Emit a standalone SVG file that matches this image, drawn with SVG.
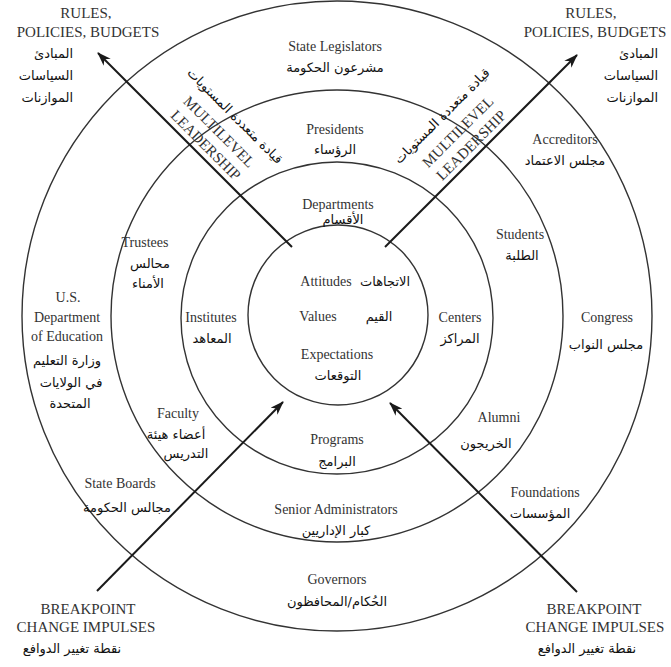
<svg xmlns="http://www.w3.org/2000/svg" width="671" height="667" viewBox="0 0 671 667">
  <style>
    .ring { fill: none; stroke: #333; stroke-width: 1.4; }
    .arrow { fill: none; stroke: #1a1a1a; stroke-width: 2; }
    .en { font-family: "Liberation Serif", "Times New Roman", serif; font-size: 14px; fill: #333; text-anchor: middle; }
    .cap { font-family: "Liberation Serif", "Times New Roman", serif; font-size: 15px; fill: #333; text-anchor: middle; }
    .ar { font-family: "DejaVu Sans", "Noto Sans", sans-serif; font-size: 13px; fill: #111; text-anchor: middle; }
    .are { font-family: "DejaVu Sans", "Noto Sans", sans-serif; font-size: 13px; fill: #111; text-anchor: end; }
  </style>
  <defs>
    <marker id="head" viewBox="0 0 14 10" refX="13" refY="5" markerWidth="14" markerHeight="10" markerUnits="userSpaceOnUse" orient="auto">
      <path d="M0,0 L14,5 L0,10 L4,5 Z" fill="#1a1a1a"/>
    </marker>
  </defs>
  <rect width="671" height="667" fill="#fff"/>

  <!-- concentric rings -->
  <g id="rings">
    <circle class="ring" cx="337" cy="316" r="315"/>
    <circle class="ring" cx="337" cy="316" r="226"/>
    <circle class="ring" cx="337" cy="318" r="156"/>
    <circle class="ring" cx="338" cy="315" r="90"/>
  </g>

  <!-- arrows: leadership outward, change impulses inward -->
  <g id="connectors">
    <line class="arrow" x1="292" y1="247" x2="98" y2="53" marker-end="url(#head)"/>
    <line class="arrow" x1="385" y1="247" x2="577" y2="55" marker-end="url(#head)"/>
    <line class="arrow" x1="97" y1="591" x2="283" y2="402" marker-end="url(#head)"/>
    <line class="arrow" x1="577" y1="592" x2="390" y2="403" marker-end="url(#head)"/>
  </g>

  <g id="rules-left">
    <text class="cap" x="86" y="18">RULES,</text>
    <text class="cap" x="88" y="37">POLICIES, BUDGETS</text>
    <text class="are" x="73" y="58">المبادئ</text>
    <text class="are" x="73" y="80">السياسات</text>
    <text class="are" x="73" y="102">الموازنات</text>
  </g>
  <g id="rules-right">
    <text class="cap" x="591" y="18">RULES,</text>
    <text class="cap" x="595" y="37">POLICIES, BUDGETS</text>
    <text class="are" x="658" y="58">المبادئ</text>
    <text class="are" x="658" y="80">السياسات</text>
    <text class="are" x="658" y="102">الموازنات</text>
  </g>

  <g id="leadership-left" transform="translate(198,153) rotate(45)">
    <text class="cap" x="0" y="-6">LEADERSHIP</text>
    <text class="cap" x="0" y="-25">MULTILEVEL</text>
    <text class="ar" x="0" y="-48">قيادة متعددة المستويات</text>
  </g>
  <g id="leadership-right" transform="translate(479,153) rotate(-45)">
    <text class="cap" x="0" y="-6">LEADERSHIP</text>
    <text class="cap" x="0" y="-25">MULTILEVEL</text>
    <text class="ar" x="0" y="-48">قيادة متعددة المستويات</text>
  </g>

  <g id="state-legislators">
    <text class="en" x="335" y="51">State Legislators</text>
    <text class="ar" x="335" y="72">مشرعون الحكومة</text>
  </g>
  <g id="presidents">
    <text class="en" x="335" y="134">Presidents</text>
    <text class="ar" x="335" y="154">الرؤساء</text>
  </g>
  <g id="accreditors">
    <text class="en" x="565" y="144">Accreditors</text>
    <text class="ar" x="565" y="165">مجلس الاعتماد</text>
  </g>
  <g id="students">
    <text class="en" x="520" y="239">Students</text>
    <text class="ar" x="522" y="260">الطلبة</text>
  </g>
  <g id="trustees">
    <text class="en" x="145" y="247">Trustees</text>
    <text class="ar" x="150" y="268">محالس</text>
    <text class="ar" x="148" y="288">الأمناء</text>
  </g>
  <g id="departments">
    <text class="en" x="338" y="209">Departments</text>
    <text class="ar" x="343" y="224">الأقسام</text>
  </g>
  <g id="core">
    <text class="en" x="326" y="286">Attitudes</text>
    <text class="ar" x="385" y="286">الاتجاهات</text>
    <text class="en" x="318" y="321">Values</text>
    <text class="ar" x="379" y="321">القيم</text>
    <text class="en" x="337" y="359">Expectations</text>
    <text class="ar" x="338" y="380">التوقعات</text>
  </g>
  <g id="institutes">
    <text class="en" x="211" y="322">Institutes</text>
    <text class="ar" x="212" y="343">المعاهد</text>
  </g>
  <g id="centers">
    <text class="en" x="460" y="322">Centers</text>
    <text class="ar" x="460" y="343">المراكز</text>
  </g>
  <g id="us-department">
    <text class="en" x="68" y="302">U.S.</text>
    <text class="en" x="67" y="322">Department</text>
    <text class="en" x="67" y="341">of Education</text>
    <text class="ar" x="67" y="365">وزارة التعليم</text>
    <text class="ar" x="71" y="387">في الولايات</text>
    <text class="ar" x="70" y="408">المتحدة</text>
  </g>
  <g id="congress">
    <text class="en" x="607" y="322">Congress</text>
    <text class="ar" x="606" y="349">مجلس النواب</text>
  </g>
  <g id="faculty">
    <text class="en" x="178" y="418">Faculty</text>
    <text class="ar" x="176" y="439">أعضاء هيئة</text>
    <text class="ar" x="186" y="458">التدريس</text>
  </g>
  <g id="alumni">
    <text class="en" x="499" y="422">Alumni</text>
    <text class="ar" x="486" y="448">الخريجون</text>
  </g>
  <g id="programs">
    <text class="en" x="337" y="444">Programs</text>
    <text class="ar" x="337" y="466">البرامج</text>
  </g>
  <g id="senior-administrators">
    <text class="en" x="336" y="514">Senior Administrators</text>
    <text class="ar" x="336" y="535">كبار الإداريين</text>
  </g>
  <g id="governors">
    <text class="en" x="337" y="584">Governors</text>
    <text class="ar" x="337" y="606">الحُكام/المحافظون</text>
  </g>
  <g id="state-boards">
    <text class="en" x="120" y="488">State Boards</text>
    <text class="ar" x="127" y="512">مجالس الحكومة</text>
  </g>
  <g id="foundations">
    <text class="en" x="545" y="497">Foundations</text>
    <text class="ar" x="540" y="518">المؤسسات</text>
  </g>

  <g id="breakpoint-left">
    <text class="cap" x="88" y="614">BREAKPOINT</text>
    <text class="cap" x="86" y="632">CHANGE IMPULSES</text>
    <text class="ar" x="72" y="653">نقطة تغيير الدوافع</text>
  </g>
  <g id="breakpoint-right">
    <text class="cap" x="594" y="614">BREAKPOINT</text>
    <text class="cap" x="595" y="632">CHANGE IMPULSES</text>
    <text class="ar" x="587" y="653">نقطة تغيير الدوافع</text>
  </g>
</svg>
